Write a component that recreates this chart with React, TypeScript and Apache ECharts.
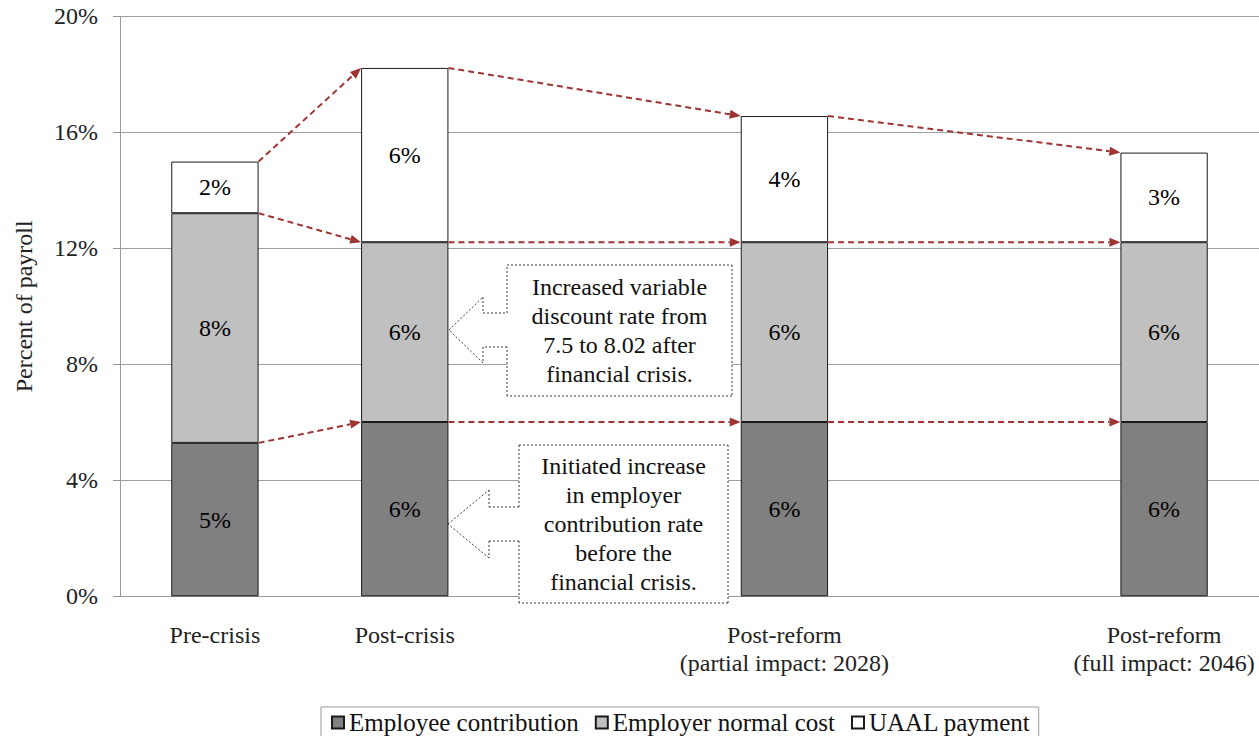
import React, { useEffect, useRef } from "react";
import * as echarts from "echarts";

// Category slots; empty strings keep the uneven spacing between periods.
const categories = [
  "Pre-crisis",
  "Post-crisis",
  "",
  "Post-reform\n(partial impact: 2028)",
  "",
  "Post-reform\n(full impact: 2046)",
];

// Percent of payroll by component (null = empty slot).
const employeeContribution = [5.29, 6.01, null, 6.01, null, 6.01];
const employerNormalCost = [7.92, 6.2, null, 6.2, null, 6.2];
const uaalPayment = [1.78, 6.01, null, 4.35, null, 3.09];

const seriesNames = ["Employee contribution", "Employer normal cost", "UAAL payment"];
const seriesColors = ["#808080", "#C0C0C0", "#FFFFFF"];

const yTicks = { min: 0, max: 20, interval: 4 };

const calloutTexts = [
  "Increased variable\ndiscount rate from\n7.5 to 8.02 after\nfinancial crisis.",
  "Initiated increase\nin employer\ncontribution rate\nbefore the\nfinancial crisis.",
];

const FONT = "Liberation Serif";
const ARROW_COLOR = "#9E3533";
const BAR_FRACTION = 0.46;

// A multi-polyline shape: each entry of `paths` is a list of points.
const PolyPath = echarts.graphic.extendShape({
  shape: { paths: [] as number[][][], closed: false },
  buildPath(ctx: any, shape: any) {
    for (const pts of shape.paths) {
      ctx.moveTo(pts[0][0], pts[0][1]);
      for (let i = 1; i < pts.length; i++) ctx.lineTo(pts[i][0], pts[i][1]);
      if (shape.closed) ctx.closePath();
    }
  },
});
echarts.graphic.registerShape("polyPath", PolyPath);

// Split a straight segment into dash pieces.
function dashes(x1: number, y1: number, x2: number, y2: number, on: number, off: number) {
  const dx = x2 - x1;
  const dy = y2 - y1;
  const len = Math.sqrt(dx * dx + dy * dy);
  const ux = dx / len;
  const uy = dy / len;
  const out: number[][][] = [];
  for (let t = 0; t < len; t += on + off) {
    const e = Math.min(t + on, len);
    out.push([
      [x1 + ux * t, y1 + uy * t],
      [x1 + ux * e, y1 + uy * e],
    ]);
  }
  return out;
}

// Connector segments [fromSlot, fromLevel, toSlot, toLevel] between stack tops.
function buildConnectors() {
  const stacks = [employeeContribution, employerNormalCost, uaalPayment];
  const present: number[] = [];
  categories.forEach((_, i) => {
    if (employeeContribution[i] != null) present.push(i);
  });
  const levelAt = (i: number, level: number) => {
    let s = 0;
    for (let k = 0; k <= level; k++) s += stacks[k][i] as number;
    return s;
  };
  const out: number[][] = [];
  for (let p = 0; p < present.length - 1; p++) {
    const a = present[p];
    const b = present[p + 1];
    for (let level = 0; level < stacks.length; level++) {
      out.push([a, levelAt(a, level), b, levelAt(b, level)]);
    }
  }
  return out;
}

function calloutOutline(
  tipX: number,
  tipY: number,
  headX: number,
  headHalf: number,
  shaftHalf: number,
  box: { l: number; t: number; r: number; b: number }
) {
  return [
    [tipX, tipY],
    [headX, tipY - headHalf],
    [headX, tipY - shaftHalf],
    [box.l, tipY - shaftHalf],
    [box.l, box.t],
    [box.r, box.t],
    [box.r, box.b],
    [box.l, box.b],
    [box.l, tipY + shaftHalf],
    [headX, tipY + shaftHalf],
    [headX, tipY + headHalf],
  ];
}

function dashedRing(pts: number[][], on: number, off: number) {
  const out: number[][][] = [];
  for (let i = 0; i < pts.length; i++) {
    const a = pts[i];
    const b = pts[(i + 1) % pts.length];
    out.push(...dashes(a[0], a[1], b[0], b[1], on, off));
  }
  return out;
}

export default function App() {
  const ref = useRef<HTMLDivElement>(null);

  useEffect(() => {
    if (!ref.current) return;
    const chart = echarts.init(ref.current, null, { renderer: "svg" });

    const barSeries = [employeeContribution, employerNormalCost, uaalPayment].map(
      (data, idx) => ({
        name: seriesNames[idx],
        type: "bar",
        stack: "total",
        barWidth: `${BAR_FRACTION * 100}%`,
        data,
        itemStyle: { color: seriesColors[idx], borderColor: "#1a1a1a", borderWidth: 1 },
        label: {
          show: true,
          position: "inside",
          fontFamily: FONT,
          fontSize: 24,
          color: "#000",
          formatter: (p: any) => `${Math.round(p.value)}%`,
        },
      })
    );

    chart.setOption({
      animation: false,
      grid: { left: 120, right: 0, top: 16.3, bottom: 139.7 },
      legend: {
        data: seriesNames,
        left: 321,
        top: 707,
        padding: [3, 8, 6, 10],
        borderColor: "#999",
        borderWidth: 1,
        itemWidth: 12,
        itemHeight: 12,
        itemGap: 16,
        icon: "rect",
        textStyle: { fontFamily: FONT, fontSize: 25, color: "#111" },
      },
      xAxis: {
        type: "category",
        data: categories,
        axisLine: { lineStyle: { color: "#999", width: 1 } },
        axisTick: { show: false },
        axisLabel: {
          interval: 0,
          margin: 25,
          fontFamily: FONT,
          fontSize: 24,
          lineHeight: 28,
          color: "#222",
        },
      },
      yAxis: {
        type: "value",
        min: yTicks.min,
        max: yTicks.max,
        interval: yTicks.interval,
        name: "Percent of payroll",
        nameLocation: "middle",
        nameRotate: 90,
        nameGap: 84,
        nameTextStyle: { fontFamily: FONT, fontSize: 24, color: "#222" },
        axisLine: { show: true, lineStyle: { color: "#999", width: 1 } },
        axisTick: { show: true, length: 7, lineStyle: { color: "#999" } },
        axisLabel: {
          formatter: "{value}%",
          margin: 22,
          fontFamily: FONT,
          fontSize: 24,
          color: "#222",
        },
        splitLine: { lineStyle: { color: "#a0a0a0", width: 1 } },
      },
      series: barSeries,
    });

    // Dashed connector arrows, positioned through the chart's own scales.
    const toPx = (slot: number, v: number) =>
      chart.convertToPixel({ gridIndex: 0 }, [slot, v]) as number[];
    const band = toPx(1, 0)[0] - toPx(0, 0)[0];
    const half = (band * BAR_FRACTION) / 2;
    const arrowDashes: number[][][] = [];
    const arrowHeads: number[][][] = [];
    buildConnectors().forEach(([a, va, b, vb]) => {
      const p1 = toPx(a, va);
      const p2 = toPx(b, vb);
      const x1 = p1[0] + half;
      const y1 = p1[1];
      const x2 = p2[0] - half;
      const y2 = p2[1];
      const dx = x2 - x1;
      const dy = y2 - y1;
      const len = Math.sqrt(dx * dx + dy * dy);
      const ux = dx / len;
      const uy = dy / len;
      const headLen = 11;
      const headHalf = 4.5;
      const bx = x2 - ux * headLen;
      const by = y2 - uy * headLen;
      arrowDashes.push(...dashes(x1, y1, bx, by, 6, 4));
      arrowHeads.push([
        [x2, y2],
        [bx - uy * headHalf, by + ux * headHalf],
        [bx + uy * headHalf, by - ux * headHalf],
      ]);
    });

    const outline1 = calloutOutline(449, 330, 483, 33, 17, { l: 507, t: 265, r: 732, b: 396 });
    const outline2 = calloutOutline(448, 524, 489, 34, 17, { l: 519, t: 445, r: 728, b: 603 });

    const calloutText = (text: string, x: number, y: number) => ({
      type: "text",
      x,
      y,
      z: 101,
      style: {
        text,
        fontFamily: FONT,
        fontSize: 24,
        lineHeight: 29,
        fill: "#111",
        align: "center",
        verticalAlign: "middle",
      },
    });

    chart.setOption({
      graphic: [
        {
          type: "polyPath",
          z: 50,
          shape: { paths: arrowDashes, closed: false },
          style: { fill: null, stroke: ARROW_COLOR, lineWidth: 2 },
        },
        {
          type: "polyPath",
          z: 50,
          shape: { paths: arrowHeads, closed: true },
          style: { fill: ARROW_COLOR, stroke: null },
        },
        {
          type: "polyPath",
          z: 100,
          shape: { paths: [outline1, outline2], closed: true },
          style: { fill: "#fff", stroke: null },
        },
        {
          type: "polyPath",
          z: 100,
          shape: { paths: [...dashedRing(outline1, 2, 2), ...dashedRing(outline2, 2, 2)], closed: false },
          style: { fill: null, stroke: "#3a3a3a", lineWidth: 1 },
        },
        calloutText(calloutTexts[0], 619.5, 330.5),
        calloutText(calloutTexts[1], 623.5, 524),
      ],
    });

    return () => chart.dispose();
  }, []);

  return (
    <div
      ref={ref}
      style={{ position: "fixed", left: 0, top: 0, width: 1259, height: 736, background: "#fff" }}
    />
  );
}
